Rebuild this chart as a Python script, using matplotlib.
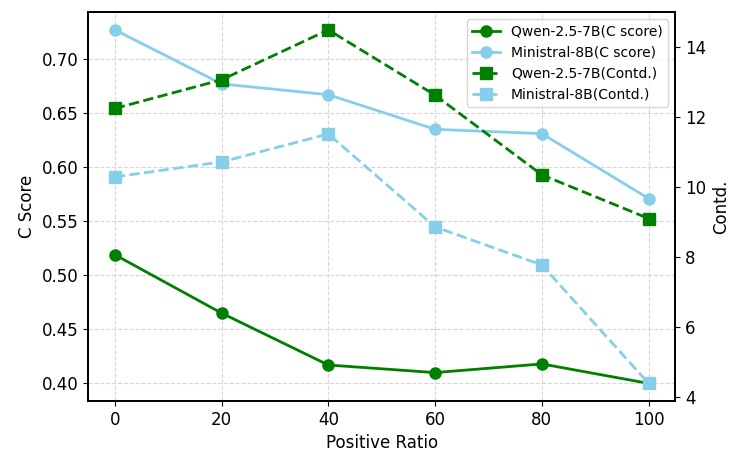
import matplotlib
matplotlib.use("Agg")
import matplotlib.pyplot as plt

ratios = [0, 20, 40, 60, 80, 100]
qwen_c = [0.519, 0.465, 0.417, 0.410, 0.418, 0.400]
mini_c = [0.727, 0.677, 0.667, 0.635, 0.631, 0.571]
qwen_contd = [12.25, 13.07, 14.50, 12.63, 10.35, 9.10]
mini_contd = [10.29, 10.72, 11.52, 8.86, 7.77, 4.38]

plt.rcParams['font.family'] = ['DejaVu Sans']
fig, ax1 = plt.subplots(figsize=(7.47, 4.68), dpi=100)
ax2 = ax1.twinx()

l1, = ax1.plot(ratios, qwen_c, color='green', marker='o', linestyle='-', lw=2, ms=8, label='Qwen-2.5-7B(C score)')
l2, = ax1.plot(ratios, mini_c, color='skyblue', marker='o', linestyle='-', lw=2, ms=8, label='Ministral-8B(C score)')
l3, = ax2.plot(ratios, qwen_contd, color='green', marker='s', linestyle='--', lw=2, ms=8, label='Qwen-2.5-7B(Contd.)')
l4, = ax2.plot(ratios, mini_contd, color='skyblue', marker='s', linestyle='--', lw=2, ms=8, label='Ministral-8B(Contd.)')

ax1.set_xlabel('Positive Ratio', fontsize=12)
ax1.set_ylabel('C Score', fontsize=12)
ax2.set_ylabel('Contd.', fontsize=12)
ax1.set_xticks(ratios)
ax1.tick_params(labelsize=12)
ax2.tick_params(labelsize=12)
ax1.grid(True, linestyle='--', color='lightgray', alpha=0.9)
for sp in list(ax1.spines.values()) + list(ax2.spines.values()):
    sp.set_linewidth(1.3)

ax2.legend(handles=[l1, l2, l3, l4], loc='upper right', fontsize=10)

fig.subplots_adjust(left=0.118, right=0.904, top=0.974, bottom=0.143)
fig.savefig('out.png', dpi=100)
